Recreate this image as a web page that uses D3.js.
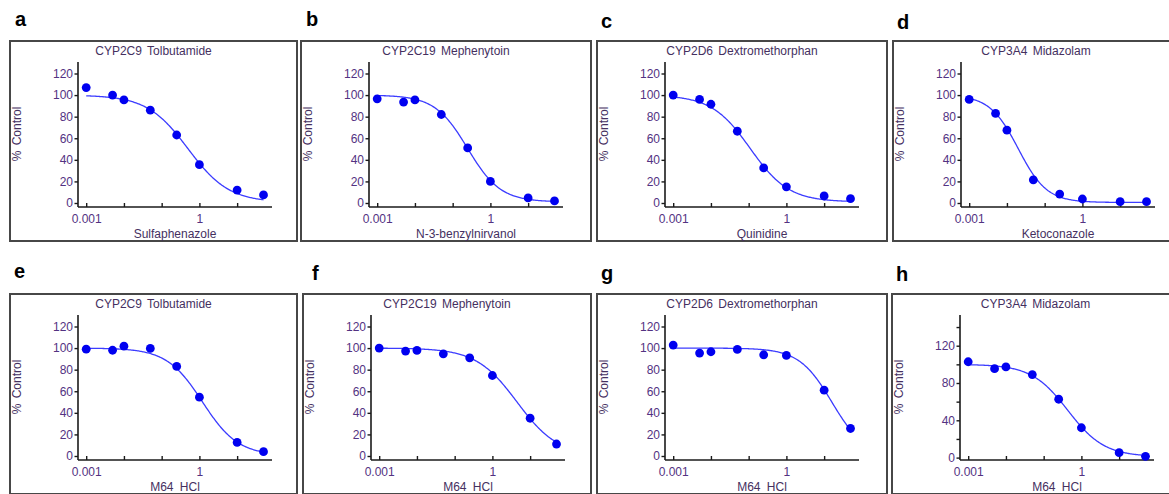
<!DOCTYPE html>
<meta charset="utf-8">
<body style="margin:0; background:#fff;">
<script src="https://d3js.org/d3.v7.min.js"></script>
<svg id="chart" width="1169" height="494"></svg>
<script>
// panel labels and texts
var letters = ["a", "b", "c", "d", "e", "f", "g", "h"];
var enzymes = ["CYP2C9 Tolbutamide", "CYP2C19 Mephenytoin", "CYP2D6 Dextromethorphan", "CYP3A4 Midazolam",
               "CYP2C9 Tolbutamide", "CYP2C19 Mephenytoin", "CYP2D6 Dextromethorphan", "CYP3A4 Midazolam"];
var inhibitors = ["Sulfaphenazole", "N-3-benzylnirvanol", "Quinidine", "Ketoconazole",
                  "M64 HCl", "M64 HCl", "M64 HCl", "M64 HCl"];

// concentrations (uM), first point is the control plotted at 0.001
var conc = [0.001, 0.005, 0.01, 0.05, 0.25, 1, 10, 50];

// % control
var pctA = [107, 100, 95.5, 86, 63, 35.5, 12, 7.5];
var pctB = [96.5, 93.5, 95.5, 82, 51, 20, 4.7, 1.9];
var pctC = [100, 96, 91.5, 66.5, 32.5, 15, 6.5, 4];
var pctD = [96, 83, 67.5, 21.5, 8.3, 3.7, 1.2, 1.2];
var pctE = [99, 98, 101.8, 99.7, 83, 54.5, 12.6, 4];
var pctF = [100, 97.2, 97.8, 94.7, 91, 74.6, 35, 11.1];
var pctG = [102.8, 95.4, 96.6, 98.8, 93.8, 93.2, 61, 25.5];
var pctH = [102.8, 95.4, 97.2, 89, 62.6, 32, 5.3, 1.4];
var series = [pctA, pctB, pctC, pctD, pctE, pctF, pctG, pctH];

// fitted 4-parameter logistic curves (estimated)
var fitTop    = [100, 100, 100, 100, 100, 100, 100, 100];
var fitBottom = [0.5, 1, 1, 0.5, 0.5, 0, 0, 1];
var fitIC50   = [0.5, 0.25, 0.11, 0.02, 1.2, 4.5, 16, 0.44];
var fitHill   = [0.8, 1, 0.85, 1.15, 0.92, 0.8, 1, 0.9];

// axis ticks
var xTicks = [0.001, 0.01, 0.1, 1, 10];
var xTickLabels = [0.001, 1];
var yTicks = [0, 20, 40, 60, 80, 100, 120];
var yTicksH = [0, 20, 40, 60, 80, 100, 120, 140];
var yTickLabelsH = [0, 40, 80, 120];

// layout
var boxLeft = [[10, 301, 597, 893], [10, 303, 597, 892]];
var boxRight = [297, 591, 887, 1185];
var boxTop = [41, 294];
var letterPos = [[15, 26], [306, 26], [601, 28], [897, 29], [14, 278], [312, 280], [601, 280], [896, 281]];

var svg = d3.select("#chart");
var font = "'Liberation Sans', Arial, sans-serif";
var tickColor = "#533282";
var textColor = "#45305f";

function drawPanel(i) {
  var row = i < 4 ? 0 : 1, col = i % 4;
  var bx = boxLeft[row][col], by = boxTop[row];
  var bw = boxRight[col] - bx;
  var g = svg.append("g");

  g.append("rect")
    .attr("x", bx).attr("y", by).attr("width", bw).attr("height", 200)
    .attr("fill", "none").attr("stroke", "#474747").attr("stroke-width", 2);

  svg.append("text")
    .attr("x", letterPos[i][0]).attr("y", letterPos[i][1])
    .attr("font-family", font).attr("font-weight", "bold").attr("font-size", 20)
    .text(letters[i]);

  g.append("text")
    .attr("x", bx + bw / 2 - (col == 3 ? 3 : 0)).attr("y", by + 13.5)
    .attr("text-anchor", "middle")
    .attr("font-family", font).attr("font-size", 12).attr("fill", textColor)
    .attr("word-spacing", 2)
    .text(enzymes[i]);

  var x = d3.scaleLog().domain([0.001, 1]).range([bx + 76.2, bx + 189.4]);
  var y = i == 7
    ? d3.scaleLinear().domain([0, 120]).range([by + 163.6, by + 51.7])
    : d3.scaleLinear().domain([0, 120]).range([by + 162, by + 32.5]);

  var axisX = bx + 68, axisY = by + 166;

  // axis lines
  g.append("line").attr("x1", axisX).attr("x2", axisX).attr("y1", by + 21).attr("y2", axisY)
    .attr("stroke", "#1a1a1a").attr("stroke-width", 1.6);
  g.append("line").attr("x1", axisX).attr("x2", bx + 262).attr("y1", axisY).attr("y2", axisY)
    .attr("stroke", "#1a1a1a").attr("stroke-width", 1.6);

  var yAxis = d3.axisLeft(y)
    .tickValues(i == 7 ? yTicksH : yTicks)
    .tickSize(3.5).tickPadding(1.5)
    .tickFormat(function (d) {
      if (i == 7) return yTickLabelsH.indexOf(d) >= 0 ? d : "";
      return d;
    });
  var gy = g.append("g").attr("transform", "translate(" + axisX + ",0)").call(yAxis);
  gy.select(".domain").remove();

  var xAxis = d3.axisBottom(x)
    .tickValues(xTicks)
    .tickSize(-4).tickPadding(7.5)
    .tickFormat(function (d) { return xTickLabels.indexOf(d) >= 0 ? d : ""; });
  var gx = g.append("g").attr("transform", "translate(0," + axisY + ")").call(xAxis);
  gx.select(".domain").remove();

  [gx, gy].forEach(function (a) {
    a.selectAll("line").attr("stroke", "#1a1a1a").attr("stroke-width", 1.4);
    a.selectAll("text").attr("font-family", font).attr("font-size", 12).attr("fill", tickColor);
  });

  // y label
  g.append("text")
    .attr("transform", "translate(" + (bx + 10.7) + "," + (by + 93) + ") rotate(-90)")
    .attr("text-anchor", "middle")
    .attr("font-family", font).attr("font-size", 12).attr("fill", textColor)
    .attr("word-spacing", 2)
    .text("% Control");

  // x label
  g.append("text")
    .attr("x", bx + 165).attr("y", by + 196.5)
    .attr("text-anchor", "middle")
    .attr("font-family", font).attr("font-size", 12).attr("fill", textColor)
    .attr("word-spacing", 3)
    .text(inhibitors[i]);

  // fitted curve
  var lx = d3.range(0, 201).map(function (k) {
    return Math.pow(10, Math.log10(conc[0]) + k / 200 * (Math.log10(conc[conc.length - 1]) - Math.log10(conc[0])));
  });
  var fit = function (c) {
    return fitBottom[i] + (fitTop[i] - fitBottom[i]) / (1 + Math.pow(c / fitIC50[i], fitHill[i]));
  };
  g.append("path")
    .datum(lx)
    .attr("d", d3.line().x(function (c) { return x(c); }).y(function (c) { return y(fit(c)); }))
    .attr("fill", "none").attr("stroke", "#3c3cff").attr("stroke-width", 1.3);

  // data points
  g.selectAll("circle.pt")
    .data(conc.map(function (c, k) { return [c, series[i][k]]; }))
    .enter().append("circle")
    .attr("class", "pt")
    .attr("cx", function (d) { return x(d[0]); })
    .attr("cy", function (d) { return y(d[1]); })
    .attr("r", 4.4)
    .attr("fill", "#0000f0");
}

for (var i = 0; i < 8; i++) drawPanel(i);
</script>
</body>
